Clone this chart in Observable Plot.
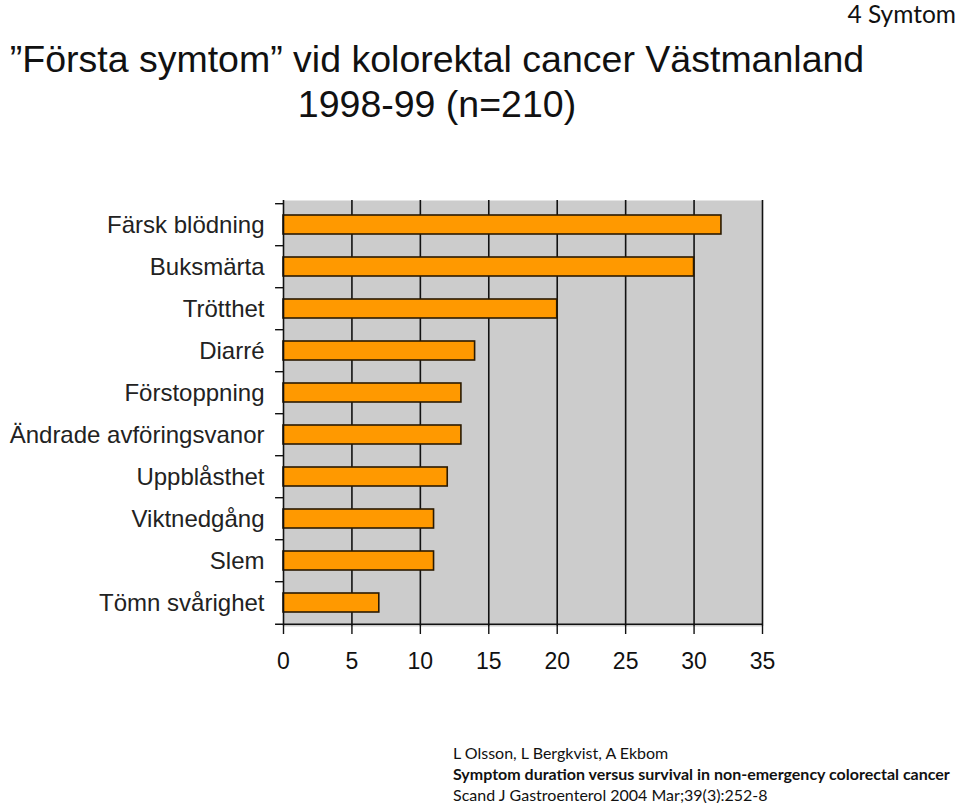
<!DOCTYPE html>
<html>
<head>
<meta charset="utf-8">
<script src="https://cdn.jsdelivr.net/npm/d3@7"></script>
<script src="https://cdn.jsdelivr.net/npm/@observablehq/plot@0.6"></script>
<style>
  html, body { margin: 0; padding: 0; background: #fff; }
  #page { position: relative; width: 960px; height: 803px; overflow: hidden; font-family: "Liberation Sans", Arial, sans-serif; }
  #corner { position: absolute; right: 4px; top: 0px; font-family: Lato, "Open Sans", sans-serif; font-size: 24.5px; line-height: 28px; color: #111; }
  #title { position: absolute; left: 0; width: 874px; top: 37px; text-align: center; font-size: 37.5px; line-height: 45px; color: #111; }
  #chart { position: absolute; left: 0; top: 180px; }
  #cite { position: absolute; left: 453px; top: 742px; font-family: Lato, "Open Sans", sans-serif; font-size: 16px; line-height: 21px; color: #111; white-space: nowrap; }
  #cite b { font-weight: 700; }
</style>
</head>
<body>
<div id="page">
  <div id="corner">4 Symtom</div>
  <div id="title">”Första symtom” vid kolorektal cancer Västmanland<br>1998-99 (n=210)</div>
  <div id="chart"></div>
  <div id="cite">L Olsson, L Bergkvist, A Ekbom<br><b>Symptom duration versus survival in non-emergency colorectal cancer</b><br>Scand J Gastroenterol 2004 Mar;39(3):252-8</div>
</div>
<script>
const categories = ["Färsk blödning", "Buksmärta", "Trötthet", "Diarré", "Förstoppning", "Ändrade avföringsvanor", "Uppblåsthet", "Viktnedgång", "Slem", "Tömn svårighet"];
const values = [32, 30, 20, 14, 13, 13, 12, 11, 11, 7];
const xTicks = [0, 5, 10, 15, 20, 25, 30, 35];
const gridTicks = [5, 10, 15, 20, 25, 30, 35];

const data = categories.map((c, i) => ({category: c, value: values[i]}));

const mTop = 20, mBottom = 54, mLeft = 283, mRight = 20;
const plotH = 426, plotW = 479;
const step = plotH / categories.length;

const chart = Plot.plot({
  width: mLeft + plotW + mRight,
  height: mTop + plotH + mBottom,
  marginTop: mTop,
  marginBottom: mBottom,
  marginLeft: mLeft,
  marginRight: mRight,
  style: {fontFamily: "'Liberation Sans', Arial, sans-serif", background: "transparent"},
  x: {domain: [0, 35], ticks: xTicks},
  y: {domain: categories, paddingInner: 0.55, paddingOuter: 0.275},
  marks: [
    Plot.frame({fill: "#cccccc", stroke: null}),
    Plot.ruleX(gridTicks, {stroke: "#111", strokeWidth: 1.6}),
    Plot.barX(data, {y: "category", x: "value", fill: "#ff9900", stroke: "#2b1a00", strokeWidth: 1.6}),
    Plot.ruleX([0], {stroke: "#111", strokeWidth: 1.6}),
    Plot.ruleY(categories, {x1: -0.58, x2: 0, dy: -step / 2, stroke: "#111", strokeWidth: 1.4}),
    Plot.ruleY([categories[categories.length - 1]], {x1: -0.58, x2: 35, dy: step / 2, stroke: "#111", strokeWidth: 1.6}),
    Plot.axisX({ticks: xTicks, tickSize: 8, tickPadding: 18, fontSize: 23, color: "#111", stroke: "#111", strokeWidth: 1.4, label: null}),
    Plot.axisY({tickSize: 0, tickPadding: 19, fontSize: 24, color: "#222", label: null})
  ]
});
document.getElementById("chart").appendChild(chart);
</script>
</body>
</html>
